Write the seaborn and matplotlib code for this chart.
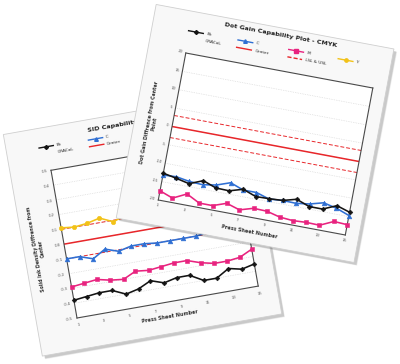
import numpy as np
import matplotlib
matplotlib.use("Agg")
import matplotlib.pyplot as plt
import seaborn as sns
from matplotlib.patches import Rectangle
from matplotlib.transforms import Affine2D
from mpl_toolkits.axisartist import floating_axes

# ---- data -------------------------------------------------------------
press_sheets = list(range(1, 16))
sheet_ticks = [1, 3, 5, 7, 9, 11, 13, 15]

# SID capability plot (solid ink density difference from center)
sid_bk = [-0.38, -0.37, -0.36, -0.36, -0.40, -0.38, -0.34, -0.37, -0.35, -0.35, -0.40, -0.40, -0.35, -0.37, -0.35]
sid_c = [-0.10, -0.10, -0.13, -0.08, -0.11, -0.09, -0.09, -0.10, -0.10, -0.10, -0.10, -0.09, -0.10, -0.09, -0.10]
sid_m = [-0.29, -0.28, -0.27, -0.29, -0.30, -0.26, -0.27, -0.26, -0.25, -0.25, -0.28, -0.30, -0.30, -0.29, -0.25]
sid_y = [0.11, 0.10, 0.11, 0.13, 0.09, 0.12, 0.13, 0.12, 0.14, 0.12, 0.11, 0.13, 0.12, 0.13, 0.12]
sid_center = 0.0
sid_limits = [-0.1, 0.1]
sid_yticks = [-0.5, -0.4, -0.3, -0.2, -0.1, 0.0, 0.1, 0.2, 0.3, 0.4, 0.5]

# Dot gain capability plot
dot_bk = [-12.7, -13.4, -14.2, -12.7, -14.0, -14.1, -13.0, -14.3, -14.2, -14.0, -13.0, -14.3, -14.3, -12.7, -13.8]
dot_c = [-13.2, -13.0, -13.6, -13.8, -13.2, -11.9, -13.2, -13.2, -14.3, -14.0, -14.1, -13.6, -12.6, -13.4, -14.7]
dot_m = [-17.5, -18.8, -17.0, -18.8, -18.8, -17.5, -18.6, -17.5, -17.6, -18.5, -18.8, -18.6, -18.7, -17.0, -17.2]
dot_center = 0.0
dot_limits = [-3.0, 3.0]
dot_yticks = [-20, -15, -10, -5, 0, 5, 10, 15, 20]

BK, CY, MG, YE, RED = "#141414", "#2f6fd3", "#e8237f", "#f2c218", "#e8262a"

W, H = 400, 364
fig = plt.figure(figsize=(W / 100, H / 100), dpi=100)
fig.patch.set_facecolor("white")


def make_card(bl, br, tl, xlim, ylim):
    # affine map data -> figure pixels, built from three corners of the plot box
    (x0, x1), (y0, y1) = xlim, ylim
    ux = np.subtract(br, bl) / (x1 - x0)
    vy = np.subtract(tl, bl) / (y1 - y0)
    m = np.array([[ux[0], vy[0], 0.0], [-ux[1], -vy[1], 0.0], [0.0, 0.0, 1.0]])
    m[0, 2] = bl[0] - ux[0] * x0 - vy[0] * y0
    m[1, 2] = (H - bl[1]) + ux[1] * x0 + vy[1] * y0
    tr = Affine2D(m)
    gh = floating_axes.GridHelperCurveLinear(tr, extremes=(x0, x1, y0, y1))
    ax = fig.add_axes([0, 0, 1, 1], axes_class=floating_axes.FloatingAxes, grid_helper=gh)
    ax.set_xlim(0, W)
    ax.set_ylim(0, H)
    for side in ["left", "right", "top", "bottom"]:
        ax.axis[side].toggle(ticks=False, ticklabels=False, label=False)
        ax.axis[side].line.set_color("#4a4a4a")
        ax.axis[side].line.set_linewidth(0.8)
    aux = ax.get_aux_axes(tr)
    ang = np.degrees(np.arctan2(-ux[1], ux[0]))
    return ax, aux, ang


def card_back(aux, box, plot_box, shadow):
    x0, x1, y0, y1 = box
    for i, a in enumerate([0.05, 0.07, 0.1]):
        d = 3 - i
        aux.add_patch(Rectangle((x0, y0), x1 - x0, y1 - y0, facecolor="k", edgecolor="none",
                                alpha=a, zorder=0.1, clip_on=False,
                                transform=aux.transData + Affine2D().translate(shadow[0] + d * 0.4, -shadow[1] - d * 0.4)))
    aux.add_patch(Rectangle((x0, y0), x1 - x0, y1 - y0, facecolor="#f8f8f8", edgecolor="#cfcfcf",
                            linewidth=0.6, zorder=0.2, clip_on=False))
    px0, px1, py0, py1 = plot_box
    aux.add_patch(Rectangle((px0, py0), px1 - px0, py1 - py0, facecolor="white", edgecolor="none",
                            zorder=0.3, clip_on=False))


def txt(aux, x, y, s, ang, **kw):
    aux.text(x, y, s, rotation=ang, rotation_mode="anchor", clip_on=False, zorder=6, **kw)


def series(aux, y, color, marker, ms):
    sns.lineplot(x=press_sheets, y=y, ax=aux, color=color, marker=marker, markersize=ms,
                 markeredgecolor=color, markeredgewidth=0.4, linewidth=1.15,
                 clip_on=False, zorder=4, legend=False)


def legend_entry(aux, x, y, length, label, ang, color, ls="-", marker=None, ms=2.5, size=3.1):
    aux.plot([x, x + length], [y, y], color=color, linestyle=ls, linewidth=1.0, clip_on=False, zorder=5)
    if marker:
        aux.plot([x + length / 2], [y], color=color, marker=marker, markersize=ms, clip_on=False, zorder=5)
    txt(aux, x + length + 0.25, y, label, ang, ha="left", va="center", fontsize=size, color="#222222")


# ---- back card: SID capability ---------------------------------------
ax_l, aux_l, ang_l = make_card((77, 318), (258.2, 286.1), (51, 170.3), (1, 15), (-0.5, 0.5))
card_back(aux_l, (-2.1, 16.4, -0.71, 0.79), (1, 15, -0.5, 0.5), (2, 2))
aux_l.hlines(sid_yticks[1:-1], 1, 15, colors="#d2d2d2", linestyles=(0, (1, 1.5)), linewidth=0.5, zorder=0.5)
aux_l.hlines(sid_center, 1, 15, colors=RED, linewidth=1.1, zorder=2)
aux_l.hlines(sid_limits, 1, 15, colors=RED, linestyles=(0, (4, 2)), linewidth=0.7, zorder=2)
series(aux_l, sid_y, YE, "o", 3.2)
series(aux_l, sid_c, CY, "^", 3.4)
series(aux_l, sid_m, MG, "s", 3.0)
series(aux_l, sid_bk, BK, "D", 2.4)
for t in sid_yticks:
    txt(aux_l, 0.72, t, f"{t:.1f}", ang_l, ha="right", va="center", fontsize=2.8, color="#555555")
for t in sheet_ticks:
    txt(aux_l, t, -0.535, str(t), ang_l, ha="center", va="top", fontsize=2.8, color="#555555")
txt(aux_l, 8, -0.585, "Press Sheet Number", ang_l, ha="center", va="top", fontsize=3.5,
    fontweight="bold", color="#333333")
txt(aux_l, -0.55, 0.0, "Solid Ink Density Diffrence from\nCenter", ang_l + 90, ha="center", va="bottom",
    fontsize=3.4, fontweight="bold", color="#333333", linespacing=1.1)
txt(aux_l, 7.9, 0.72, "SID Capability Plot - CMYK", ang_l, ha="center", va="center", fontsize=4.6,
    fontweight="bold", color="#222222")
legend_entry(aux_l, 0.4, 0.66, 1.1, "Bk", ang_l, BK, marker="D", ms=2.0)
txt(aux_l, 1.75, 0.61, "GRACoL", ang_l, ha="left", va="center", fontsize=3.1, color="#222222")
legend_entry(aux_l, 4.2, 0.655, 1.1, "C", ang_l, CY, marker="^", ms=2.6)
legend_entry(aux_l, 4.2, 0.61, 1.1, "Center", ang_l, RED)
legend_entry(aux_l, 8.0, 0.655, 1.1, "M", ang_l, MG, marker="s", ms=2.4)
legend_entry(aux_l, 8.0, 0.61, 1.1, "LSL & USL", ang_l, RED, ls=(0, (3, 1.5)))
legend_entry(aux_l, 11.8, 0.655, 1.1, "Y", ang_l, YE, marker="o", ms=2.4)

# ---- front card: dot gain capability ---------------------------------
ax_r, aux_r, ang_r = make_card((158.3, 200), (345.3, 235), (185.8, 53), (1, 15), (-20, 20))
card_back(aux_r, (-1.8, 16.0, -26.8, 31.3), (1, 15, -20, 20), (2, 2))
aux_r.hlines(dot_yticks[1:-1], 1, 15, colors="#d2d2d2", linestyles=(0, (1, 1.5)), linewidth=0.5, zorder=0.5)
aux_r.hlines(dot_center, 1, 15, colors=RED, linewidth=1.1, zorder=2)
aux_r.hlines(dot_limits, 1, 15, colors=RED, linestyles=(0, (4, 2)), linewidth=0.7, zorder=2)
series(aux_r, dot_c, CY, "^", 3.4)
series(aux_r, dot_m, MG, "s", 3.0)
series(aux_r, dot_bk, BK, "D", 2.4)
for t in dot_yticks:
    txt(aux_r, 0.75, t, str(t), ang_r, ha="right", va="center", fontsize=2.8, color="#555555")
for t in sheet_ticks:
    txt(aux_r, t, -21.0, str(t), ang_r, ha="center", va="top", fontsize=2.8, color="#555555")
txt(aux_r, 8, -23.2, "Press Sheet Number", ang_r, ha="center", va="top", fontsize=3.5,
    fontweight="bold", color="#333333")
txt(aux_r, -0.1, 0.0, "Dot Gain Diffrence from Center\nPoint", ang_r + 90, ha="center", va="bottom",
    fontsize=3.4, fontweight="bold", color="#333333", linespacing=1.1)
txt(aux_r, 7.6, 29.4, "Dot Gain Capability Plot - CMYK", ang_r, ha="center", va="center", fontsize=4.6,
    fontweight="bold", color="#222222")
legend_entry(aux_r, 0.9, 26.0, 1.1, "Bk", ang_r, BK, marker="D", ms=2.0)
txt(aux_r, 2.25, 24.1, "GRACoL", ang_r, ha="left", va="center", fontsize=3.1, color="#222222")
legend_entry(aux_r, 4.6, 26.0, 1.1, "C", ang_r, CY, marker="^", ms=2.6)
legend_entry(aux_r, 4.6, 24.0, 1.1, "Center", ang_r, RED)
legend_entry(aux_r, 8.4, 26.0, 1.1, "M", ang_r, MG, marker="s", ms=2.4)
legend_entry(aux_r, 8.4, 24.0, 1.1, "LSL & USL", ang_r, RED, ls=(0, (3, 1.5)))
legend_entry(aux_r, 12.1, 26.0, 1.1, "Y", ang_r, YE, marker="o", ms=2.4)

fig.savefig("out.png", dpi=100, facecolor="white")
